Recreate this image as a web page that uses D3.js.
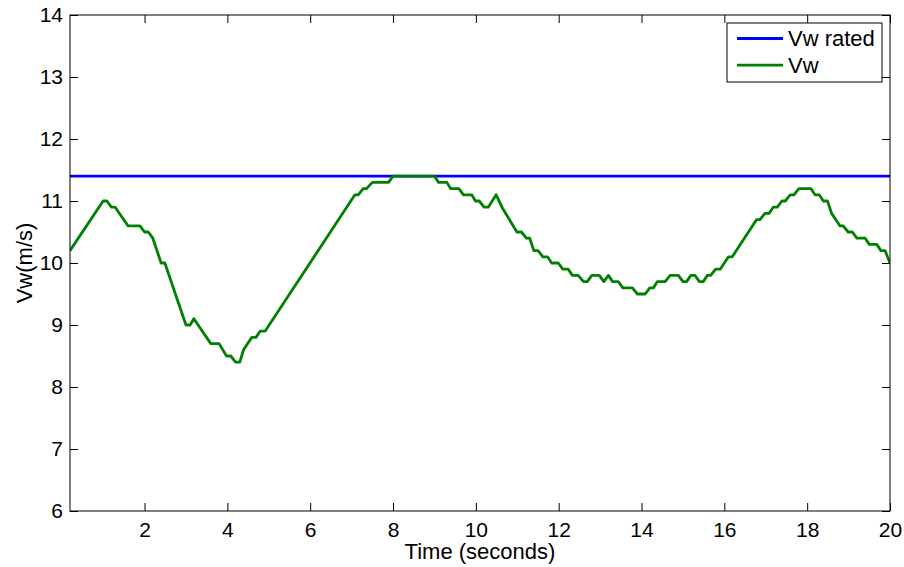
<!DOCTYPE html>
<html>
<head>
<meta charset="utf-8">
<script src="https://cdn.jsdelivr.net/npm/d3@7"></script>
<style>
  body { margin: 0; background: #fff; }
  svg { display: block; font-family: "Liberation Sans", Arial, Helvetica, sans-serif; }
</style>
</head>
<body>
<div id="wrapper"></div>
<script>
// wind speed trace (seconds, m/s)
const timeValues = [
  0.2, 1.0, 1.09, 1.2, 1.29, 1.6, 1.89, 2.0, 2.09, 2.2, 2.4, 2.49, 3.0, 3.1, 3.19,
  3.6, 3.8, 3.98, 4.08, 4.2, 4.3, 4.39, 4.59, 4.69, 4.79, 4.91, 7.08, 7.16, 7.28,
  7.36, 7.5, 7.89, 8.0, 9.0, 9.1, 9.3, 9.39, 9.59, 9.7, 9.9, 9.99, 10.08, 10.2,
  10.3, 10.49, 10.63, 10.99, 11.1, 11.22, 11.3, 11.4, 11.5, 11.62, 11.73, 11.83,
  11.99, 12.1, 12.23, 12.33, 12.47, 12.6, 12.69, 12.8, 12.98, 13.09, 13.2, 13.3,
  13.44, 13.55, 13.78, 13.9, 14.09, 14.2, 14.29, 14.38, 14.57, 14.69, 14.89, 15.0,
  15.09, 15.19, 15.29, 15.4, 15.49, 15.59, 15.67, 15.79, 15.9, 16.1, 16.19, 16.78,
  16.86, 16.98, 17.08, 17.18, 17.28, 17.39, 17.47, 17.59, 17.68, 17.8, 18.09, 18.19,
  18.29, 18.39, 18.49, 18.59, 18.79, 18.87, 18.99, 19.09, 19.2, 19.4, 19.5, 19.68,
  19.78, 19.88, 20.0
]
const windSpeed = [
  10.2, 11.0, 11.0, 10.9, 10.9, 10.6, 10.6, 10.5, 10.5, 10.4, 10.0, 10.0, 9.0, 9.0, 9.1,
  8.7, 8.7, 8.5, 8.5, 8.4, 8.4, 8.6, 8.8, 8.8, 8.9, 8.9, 11.1, 11.1, 11.2,
  11.2, 11.3, 11.3, 11.4, 11.4, 11.3, 11.3, 11.2, 11.2, 11.1, 11.1, 11.0, 11.0, 10.9,
  10.9, 11.1, 10.9, 10.5, 10.5, 10.4, 10.4, 10.2, 10.2, 10.1, 10.1, 10.0,
  10.0, 9.9, 9.9, 9.8, 9.8, 9.7, 9.7, 9.8, 9.8, 9.7, 9.8, 9.7,
  9.7, 9.6, 9.6, 9.5, 9.5, 9.6, 9.6, 9.7, 9.7, 9.8, 9.8, 9.7,
  9.7, 9.8, 9.8, 9.7, 9.7, 9.8, 9.8, 9.9, 9.9, 10.1, 10.1, 10.7,
  10.7, 10.8, 10.8, 10.9, 10.9, 11.0, 11.0, 11.1, 11.1, 11.2, 11.2, 11.1,
  11.1, 11.0, 11.0, 10.8, 10.6, 10.6, 10.5, 10.5, 10.4, 10.4, 10.3, 10.3,
  10.2, 10.2, 10.0
]
// rated wind speed, flat over the whole run
const ratedTime = [0.2, 20]
const ratedSpeed = [11.4, 11.4]

const xTicks = [2, 4, 6, 8, 10, 12, 14, 16, 18, 20]
const yTicks = [6, 7, 8, 9, 10, 11, 12, 13, 14]
const seriesNames = ["Vw rated", "Vw"]
const seriesColors = ["#0000ff", "#008000"]

const width = 904
const height = 567
const margin = { top: 15, right: 14, bottom: 56, left: 70 }
const boundWidth = width - margin.left - margin.right
const boundHeight = height - margin.top - margin.bottom
const tickFont = "21px"
const labelFont = "22px"

const svg = d3.select("#wrapper")
  .append("svg")
    .attr("width", width)
    .attr("height", height)

svg.append("rect")
  .attr("width", width)
  .attr("height", height)
  .attr("fill", "#fff")

const bound = svg.append("g")
  .attr("transform", `translate(${margin.left},${margin.top})`)

const xScale = d3.scaleLinear()
  .domain([0.2, 20])
  .range([0, boundWidth])

const yScale = d3.scaleLinear()
  .domain([6, 14])
  .range([boundHeight, 0])

bound.append("clipPath")
  .attr("id", "plot-clip")
  .append("rect")
    .attr("width", boundWidth)
    .attr("height", boundHeight)

// axes, ticks pointing inwards on all four sides (matlab box style)
const styleAxis = g => {
  g.select(".domain").remove()
  g.selectAll(".tick line").attr("stroke", "#000")
  g.selectAll("text")
    .attr("fill", "#000")
    .style("font-size", tickFont)
    .style("font-family", "'Liberation Sans', Arial, Helvetica, sans-serif")
}

bound.append("g")
  .attr("transform", `translate(0,${boundHeight})`)
  .call(d3.axisBottom(xScale).tickValues(xTicks).tickSizeInner(-8).tickSizeOuter(0).tickPadding(11))
  .call(styleAxis)

bound.append("g")
  .call(d3.axisTop(xScale).tickValues(xTicks).tickSizeInner(-8).tickSizeOuter(0).tickFormat(""))
  .call(styleAxis)

bound.append("g")
  .call(d3.axisLeft(yScale).tickValues(yTicks).tickSizeInner(-8).tickSizeOuter(0).tickPadding(7))
  .call(styleAxis)

bound.append("g")
  .attr("transform", `translate(${boundWidth},0)`)
  .call(d3.axisRight(yScale).tickValues(yTicks).tickSizeInner(-8).tickSizeOuter(0).tickFormat(""))
  .call(styleAxis)

// lines
const lineGen = d3.line()
  .x(d => xScale(d[0]))
  .y(d => yScale(d[1]))

const lines = bound.append("g").attr("clip-path", "url(#plot-clip)")

lines.append("path")
  .datum(d3.zip(ratedTime, ratedSpeed))
  .attr("d", lineGen)
  .attr("fill", "none")
  .attr("stroke", seriesColors[0])
  .attr("stroke-width", 2.8)

lines.append("path")
  .datum(d3.zip(timeValues, windSpeed))
  .attr("d", lineGen)
  .attr("fill", "none")
  .attr("stroke", seriesColors[1])
  .attr("stroke-width", 2.8)
  .attr("stroke-linejoin", "round")

// plot box
bound.append("rect")
  .attr("width", boundWidth)
  .attr("height", boundHeight)
  .attr("fill", "none")
  .attr("stroke", "#000")
  .attr("stroke-width", 1)

// axis labels
svg.append("text")
  .attr("x", margin.left + boundWidth / 2)
  .attr("y", 559)
  .attr("text-anchor", "middle")
  .style("font-size", labelFont)
  .text("Time (seconds)")

svg.append("text")
  .attr("transform", `translate(32,${margin.top + boundHeight / 2}) rotate(-90)`)
  .attr("text-anchor", "middle")
  .style("font-size", labelFont)
  .text("Vw(m/s)")

// legend
const legend = bound.append("g")
  .attr("transform", `translate(${boundWidth - 163},8)`)

legend.append("rect")
  .attr("width", 155)
  .attr("height", 59)
  .attr("fill", "#fff")
  .attr("stroke", "#000")
  .attr("stroke-width", 1)

seriesNames.forEach((name, i) => {
  const rowY = 15.5 + i * 26.7
  legend.append("line")
    .attr("x1", 10)
    .attr("x2", 56)
    .attr("y1", rowY)
    .attr("y2", rowY)
    .attr("stroke", seriesColors[i])
    .attr("stroke-width", 2.8)
  legend.append("text")
    .attr("x", 61)
    .attr("y", rowY)
    .attr("dy", "0.35em")
    .style("font-size", labelFont)
    .text(name)
})
</script>
</body>
</html>
